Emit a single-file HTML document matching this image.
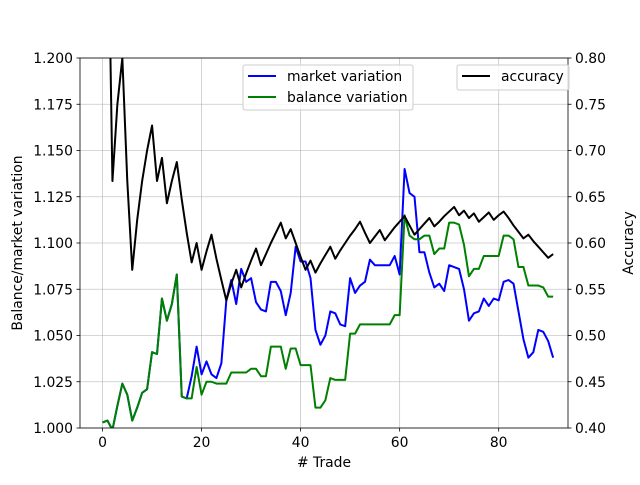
<!DOCTYPE html>
<html><head><meta charset="utf-8"><style>body{margin:0;background:#fff}svg{font-family:"DejaVu Sans","Liberation Sans",sans-serif}</style></head>
<body>
<svg id="c" width="640" height="480"></svg>
<script>
const trades=[...Array(92).keys()];
const market=[1.003,1.004,0.999,1.012,1.024,1.018,1.004,1.011,1.019,1.021,1.041,1.040,1.070,1.058,1.067,1.083,1.017,1.016,1.028,1.044,1.029,1.036,1.029,1.027,1.035,1.069,1.080,1.067,1.086,1.079,1.081,1.068,1.064,1.063,1.079,1.079,1.074,1.061,1.073,1.098,1.090,1.090,1.081,1.053,1.045,1.050,1.063,1.062,1.056,1.055,1.081,1.073,1.077,1.079,1.091,1.088,1.088,1.088,1.088,1.093,1.083,1.140,1.127,1.125,1.095,1.095,1.084,1.076,1.078,1.074,1.088,1.087,1.086,1.075,1.058,1.062,1.063,1.070,1.066,1.070,1.069,1.079,1.080,1.078,1.063,1.048,1.038,1.041,1.053,1.052,1.047,1.038];
const balance=[1.003,1.004,0.999,1.012,1.024,1.018,1.004,1.011,1.019,1.021,1.041,1.040,1.070,1.058,1.067,1.083,1.017,1.016,1.016,1.033,1.018,1.025,1.025,1.024,1.024,1.024,1.030,1.030,1.030,1.030,1.032,1.032,1.028,1.028,1.044,1.044,1.044,1.032,1.043,1.043,1.034,1.034,1.034,1.011,1.011,1.015,1.027,1.026,1.026,1.026,1.051,1.051,1.056,1.056,1.056,1.056,1.056,1.056,1.056,1.061,1.061,1.115,1.104,1.102,1.102,1.104,1.104,1.094,1.097,1.097,1.111,1.111,1.110,1.099,1.082,1.086,1.086,1.093,1.093,1.093,1.093,1.104,1.104,1.102,1.087,1.087,1.077,1.077,1.077,1.076,1.071,1.071];
const accuracy=[1.0,1.0,0.667,0.75,0.8,0.667,0.571,0.625,0.667,0.7,0.727,0.667,0.692,0.643,0.667,0.6875,0.647,0.611,0.579,0.6,0.571,0.591,0.609,0.583,0.56,0.538,0.556,0.571,0.552,0.567,0.581,0.594,0.576,0.588,0.6,0.611,0.622,0.605,0.615,0.6,0.585,0.571,0.581,0.568,0.578,0.587,0.596,0.583,0.592,0.6,0.608,0.615,0.623,0.611,0.6,0.607,0.614,0.603,0.610,0.617,0.623,0.629,0.619,0.609,0.615,0.621,0.627,0.618,0.623,0.629,0.634,0.639,0.630,0.635,0.627,0.632,0.623,0.628,0.633,0.625,0.630,0.634,0.627,0.619,0.612,0.605,0.609,0.602,0.596,0.590,0.584,0.588];
const xTicks=[0,20,40,60,80];
const yTicks=[1.000,1.025,1.050,1.075,1.100,1.125,1.150,1.175,1.200];
const y2Ticks=[0.40,0.45,0.50,0.55,0.60,0.65,0.70,0.75,0.80];
const L=80,R=568,T=58,B=428,FS=13.9;
const X=v=>L+(v+4.55)/(98.55)*(R-L);
const Y=v=>B-(v-1)/0.2*(B-T);
const Y2=v=>B-(v-0.4)/0.4*(B-T);
const svg=document.getElementById('c');const NS='http://www.w3.org/2000/svg';
function mk(t,a,p){const e=document.createElementNS(NS,t);for(const k in a)e.setAttribute(k,a[k]);(p||svg).appendChild(e);return e;}
const defs=mk('defs',{});const cp=mk('clipPath',{id:'cp'},defs);mk('rect',{x:L,y:T,width:R-L,height:B-T},cp);
xTicks.forEach(t=>{const g=mk('line',{x1:X(t),x2:X(t),y1:T,y2:B,stroke:'#b0b0b0','stroke-width':0.8,opacity:0.7});

mk('line',{x1:X(t),x2:X(t),y1:B,y2:B+3.5,stroke:'#000','stroke-width':0.8});
const tx=mk('text',{x:X(t),y:B+19,'font-size':FS,'text-anchor':'middle'});tx.textContent=t;
});
yTicks.forEach(t=>{const g=mk('line',{x1:L,x2:R,y1:Y(t),y2:Y(t),stroke:'#b0b0b0','stroke-width':0.8,opacity:0.7});

mk('line',{x1:L-3.5,x2:L,y1:Y(t),y2:Y(t),stroke:'#000','stroke-width':0.8});
const tx=mk('text',{x:L-7,y:Y(t)+5,'font-size':FS,'text-anchor':'end'});tx.textContent=t.toFixed(3);
});
y2Ticks.forEach(t=>{mk('line',{x1:R,x2:R+3.5,y1:Y2(t),y2:Y2(t),stroke:'#000','stroke-width':0.8});
const tx=mk('text',{x:R+7,y:Y2(t)+5,'font-size':FS});tx.textContent=t.toFixed(2);
});
function line(data,f,col,name){const p=mk('polyline',{points:data.map((v,i)=>X(trades[i])+','+f(v)).join(' '),fill:'none',stroke:col,'stroke-width':2,'clip-path':'url(#cp)','stroke-linejoin':'round'});
}
line(market,Y,'#0000ff','market-line');line(balance,Y,'#008000','balance-line');line(accuracy,Y2,'#000','accuracy-line');
const fr=mk('rect',{x:L,y:T,width:R-L,height:B-T,fill:'none',stroke:'#000','stroke-width':0.8});

let t=mk('text',{x:(L+R)/2,y:467,'font-size':FS,'text-anchor':'middle'});t.textContent='# Trade';

t=mk('text',{x:0,y:0,'font-size':FS,'text-anchor':'middle',transform:`translate(22,${(T+B)/2}) rotate(-90)`});t.textContent='Balance/market variation';

t=mk('text',{x:0,y:0,'font-size':FS,'text-anchor':'middle',transform:`translate(633,${(T+B)/2}) rotate(-90)`});t.textContent='Accuracy';

let lg=mk('rect',{x:243,y:65,width:170,height:45,rx:2,fill:'#fff','fill-opacity':0.8,stroke:'#ccc'});

[['market variation','#0000ff',76],['balance variation','#008000',97]].forEach(([n,c,y])=>{
mk('line',{x1:248,x2:276,y1:y,y2:y,stroke:c,'stroke-width':2});
const e=mk('text',{x:287,y:y+5,'font-size':FS});e.textContent=n;
});
lg=mk('rect',{x:457,y:65,width:112,height:25,rx:2,fill:'#fff','fill-opacity':0.8,stroke:'#ccc'});

mk('line',{x1:462,x2:490,y1:76,y2:76,stroke:'#000','stroke-width':2});
t=mk('text',{x:501,y:81,'font-size':FS});t.textContent='accuracy';

</script>
</body></html>
